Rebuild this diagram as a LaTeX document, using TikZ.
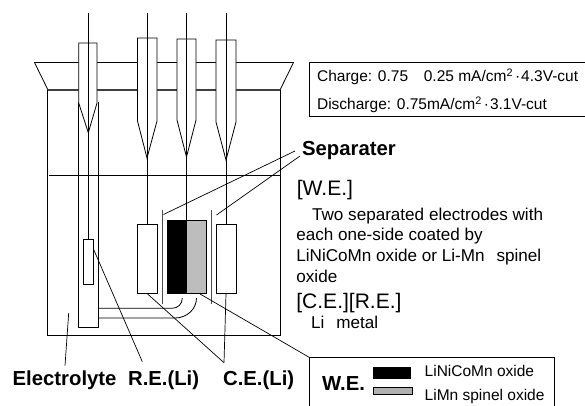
\documentclass[tikz,border=0pt]{standalone}
\usepackage{fontspec}
\setmainfont{Liberation Sans}
\usepackage{tikz}

\begin{document}
\begin{tikzpicture}[x=1pt,y=-1pt,line width=0.8pt,
	body/.style={inner sep=0,anchor=base west,font=\fontsize{15.5}{18}\selectfont},
	note/.style={inner sep=0,anchor=base west,font=\fontsize{17.1}{20}\selectfont},
	head/.style={inner sep=0,anchor=base west,font=\fontsize{21}{25}\selectfont},
	tag/.style={inner sep=0,anchor=base west,font=\fontsize{20.3}{24}\selectfont\bfseries},
	electrode/.style={draw,fill=white,inner sep=0,minimum width=#1},
	tube/.style={draw,fill=white,line width=0.8pt},
	wire/.style={line width=1pt},
	thin line/.style={line width=0.7pt}]
	\useasboundingbox (0,0) rectangle (585,406);

	% beaker
	\draw (48,90) -- (34.5,62.5) -- (293.5,62.5) -- (280,90);
	\draw[line width=1.4pt,black!75] (48,90) -- (280,90);
	\draw (47.5,90) -- (47.5,335) -- (280,335) -- (280,90);

	% glass tubes
	\draw[tube] (78.7,102) -- (78.7,327.7) -- (98.3,327.7) -- (98.3,102);
	\draw[tube] (78.7,43) -- (97,43) -- (97,103) -- (88.3,132.7) -- (78.7,103) -- cycle;
	\draw[tube] (137.5,38) -- (157,38) -- (157,121) -- (147,158) -- (137.5,121) -- cycle;
	\draw[tube] (177,39) -- (196,39) -- (196,120) -- (186.5,157) -- (177,120) -- cycle;
	\draw[tube] (216,40) -- (236,40) -- (236,122) -- (226,160) -- (216,122) -- cycle;
	\draw (49,175) -- (280,175);

	% electrodes
	\node[electrode=10pt,minimum height=45pt] (re) at (88.3,261.8) {};
	\node[electrode=20pt,minimum height=69pt] (ce1) at (147.5,259) {};
	\node[electrode=20pt,minimum height=69pt] (ce2) at (226,259) {};
	\node[electrode=19.5pt,minimum height=73.5pt,fill=black] (wenicomn) at (176.8,256.8) {};
	\node[electrode=20pt,minimum height=73.5pt,fill=black!26] (wespinel) at (196.5,256.8) {};

	% wires
	\coordinate (retop) at (88.5,13);
	\coordinate (ce1top) at (147,13);
	\coordinate (wetop) at (186.5,13);
	\coordinate (ce2top) at (226,13);
	\draw[wire] (retop) -- (retop |- re.north);
	\draw[wire] (ce1top) -- (ce1top |- ce1.north);
	\draw[wire] (wetop) -- (wetop |- wenicomn.north);
	\draw[wire] (ce2top) -- (ce2top |- ce2.north);

	% separaters
	\coordinate (sepa) at (162.5,210);
	\coordinate (sepb) at (162.5,303.5);
	\coordinate (sepc) at (211,210);
	\coordinate (sepd) at (211,303.5);
	\draw[black!70] (sepa) -- (sepb);
	\draw[black!70] (sepc) -- (sepd);

	% pipes
	\coordinate (pipea) at (98.3,308.3);
	\coordinate (pipeb) at (98.3,318);
	\draw (pipea) -- (172,308.3) .. controls (178,308.3) and (182.3,304) .. (182.3,298);
	\draw (pipeb) -- (175,318) .. controls (187,318) and (196.5,309) .. (196.5,298);

	% labels
	\node[tag] (separater) at (301.7,155) {Separater};
	\node[tag] (electrolyte) at (12.3,385) {Electrolyte};
	\node[tag] (relabel) at (127.7,385) {R.E.(Li)};
	\node[tag] (celabel) at (222.7,385) {C.E.(Li)};

	\coordinate (sepleft) at (163.5,214.5);
	\coordinate (sepright) at (216.5,215);
	\coordinate (sependa) at (295,151);
	\coordinate (sependb) at (300,156);
	\coordinate (elecstart) at (68.7,313);
	\coordinate (elecend) at (65,365.7);
	\coordinate (reend) at (142.3,361.7);
	\coordinate (ceend) at (224,362.7);
	\draw[thin line] (sepleft) -- (sependa);
	\draw[thin line] (sepright) -- (sependb);
	\draw[thin line] (elecstart) -- (elecend);
	\draw[thin line] ([yshift=12.2pt]re.east) -- (reend);
	\draw[thin line] (ce1.south) -- (ceend);
	\draw[thin line] (ce2.south) -- (ceend);

	% conditions
	\coordinate (conda) at (585,62.3);
	\coordinate (condb) at (309,62.3);
	\coordinate (condc) at (309,116.7);
	\coordinate (condd) at (585,116.7);
	\draw (conda) -- (condb) -- (condc) -- (condd);
	\node[body] (charge) at (316.7,81.7) {Charge: 0.75\hspace{15.7pt}0.25 mA/cm\textsuperscript{2}\hspace{2pt}·\hspace{1pt}4.3V-cut};
	\node[body] (discharge) at (316.7,110) {Discharge: 0.75mA/cm\textsuperscript{2}\hspace{2pt}·\hspace{1pt}3.1V-cut};

	% notes
	\node[head] (wehead) at (296.5,195) {[W.E.]};
	\node[note] (notea) at (311.7,220) {Two separated electrodes with};
	\node[note] (noteb) at (296,240.7) {each one-side coated by};
	\node[note] (notec) at (296,261.7) {LiNiCoMn oxide or Li-Mn\hspace{12pt}spinel};
	\node[note] (noted) at (296,282.7) {oxide};
	\node[head] (cehead) at (296,308) {[C.E.][R.E.]};
	\node[note] (notee) at (310.7,328.3) {Li\hspace{12pt}metal};

	% legend
	\coordinate (lega) at (309.5,406);
	\coordinate (legb) at (309.5,357.5);
	\coordinate (legc) at (554,357.5);
	\coordinate (legd) at (554,406);
	\draw (lega) -- (legb) -- (legc) -- (legd);
	\draw[thin line] ([xshift=3.5pt]wespinel.south) -- (legb);
	\node[tag] (welabel) at (321.7,390.7) {W.E.};
	\node[electrode=37pt,minimum height=11pt,fill=black] (keynicomn) at (391.5,372.5) {};
	\node[electrode=39pt,minimum height=6.7pt,fill=black!31] (keyspinel) at (393,390.7) {};
	\node[body] (keytexta) at (424.3,376) {LiNiCoMn oxide};
	\node[body] (keytextb) at (424.3,400) {LiMn spinel oxide};
\end{tikzpicture}
\end{document}
